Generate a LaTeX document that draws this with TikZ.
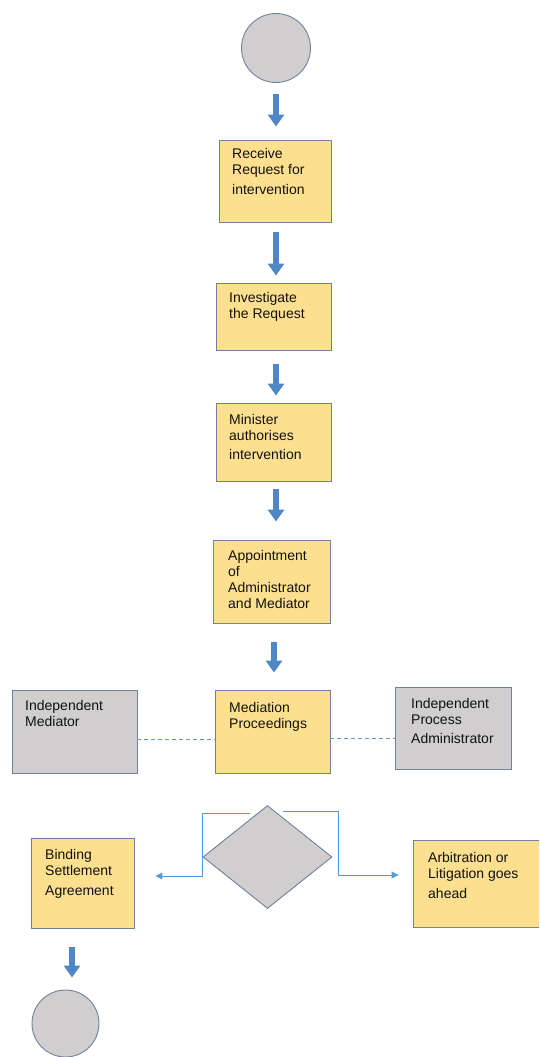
\documentclass[tikz,border=0pt]{standalone}
\usepackage{fontspec}
\setmainfont{Liberation Sans}
\usetikzlibrary{arrows.meta,shapes.geometric}
\definecolor{boxY}{HTML}{FDE08F}
\definecolor{boxG}{HTML}{D0CECF}
\definecolor{edgec}{HTML}{6F819B}
\definecolor{blk}{HTML}{4F86C6}
\definecolor{connc}{HTML}{5B9BD5}
\definecolor{txtc}{HTML}{111111}
\begin{document}
\begin{tikzpicture}[x=1pt,y=-1pt,
  ybox/.style={draw=edgec, fill=boxY, line width=0.9pt, inner sep=0, rectangle},
  gbox/.style={draw=edgec, fill=boxG, line width=0.9pt, inner sep=0, rectangle},
  term/.style={draw=edgec, fill=boxG, line width=0.9pt, inner sep=0, circle},
  txt/.style={anchor=north west, inner sep=0, align=left, font=\fontsize{14}{16}\selectfont, text=txtc},
  blockarrow/.style={draw=blk, line width=6pt, -{Triangle[width=16pt,length=12pt]}},
  dashconn/.style={draw=connc, line width=0.9pt, dash pattern=on 4pt off 3pt},
  flowconn/.style={draw=connc, line width=1pt, -{Triangle[width=7pt,length=7pt]}}
]
\useasboundingbox (0,0) rectangle (539,1057);
\clip (0,0) rectangle (539,1057);

% nodes
\node[term, minimum size=69pt] (c1) at (276,48) {};
\node[ybox, minimum width=112pt, minimum height=82pt] (b1) at (275,181) {};
\node[ybox, minimum width=115pt, minimum height=67pt] (b2) at (273.5,316.5) {};
\node[ybox, minimum width=115pt, minimum height=78pt] (b3) at (273.5,442) {};
\node[ybox, minimum width=117pt, minimum height=83pt] (b4) at (271.5,581.5) {};
\node[ybox, minimum width=115pt, minimum height=83pt] (med) at (272.5,731.5) {};
\node[gbox, minimum width=125pt, minimum height=83pt] (im) at (74.5,731.5) {};
\node[gbox, minimum width=116pt, minimum height=82pt] (ipa) at (453,728) {};
\node[draw=edgec, fill=boxG, line width=0.9pt, inner sep=0, diamond, minimum width=129pt, minimum height=103pt] (dia) at (267.5,857) {};
\node[ybox, minimum width=103pt, minimum height=90pt] (bind) at (82.5,883) {};
\node[ybox, minimum width=132pt, minimum height=87pt] (arb) at (479,883.5) {};
\node[term, minimum size=67pt] (c2) at (65.5,1023.5) {};

% texts
\node[txt] (t1) at (232,148) {Receive\\Request for\\[4pt]intervention};
\node[txt] (t2) at (229,292) {Investigate\\the Request};
\node[txt] (t3) at (229,414) {Minister\\authorises\\[3pt]intervention};
\node[txt] (t4) at (228,550) {Appointment\\of\\Administrator\\and Mediator};
\node[txt] (t5) at (229,702) {Mediation\\Proceedings};
\node[txt] (t6) at (25,700) {Independent\\Mediator};
\node[txt] (t7) at (411,698) {Independent\\Process\\[3pt]Administrator};
\node[txt] (t8) at (45,849) {Binding\\Settlement\\[4pt]Agreement};
\node[txt] (t9) at (428,852) {Arbitration or\\Litigation goes\\[4pt]ahead};

% block arrows
\draw[blockarrow, shorten <=11pt, shorten >=13pt] (c1.south) -- (c1.south |- b1.north);
\draw[blockarrow, shorten <=10pt, shorten >=7pt] ([xshift=1pt]b1.south) -- ([xshift=1pt]b1.south |- b2.north);
\draw[blockarrow, shorten <=14pt, shorten >=7pt] ([xshift=2.5pt]b2.south) -- ([xshift=2.5pt]b2.south |- b3.north);
\draw[blockarrow, shorten <=8pt, shorten >=18pt] ([xshift=2.5pt]b3.south) -- ([xshift=2.5pt]b3.south |- b4.north);
\draw[blockarrow, shorten <=19pt, shorten >=17pt] ([xshift=2.5pt]b4.south) -- ([xshift=2.5pt]b4.south |- med.north);
\draw[blockarrow, shorten <=19pt, shorten >=12pt] ([xshift=-10.5pt]bind.south) -- ([xshift=-10.5pt]bind.south |- c2.north);

% dashed links
\draw[dashconn] ([yshift=-7.5pt]im.east) -- ([yshift=-7.5pt]im.east -| med.west);
\draw[dashconn] ([yshift=-6.5pt]med.east) -- ([yshift=-6.5pt]med.east -| ipa.west);

% decision connectors
\draw[flowconn, shorten >=21pt] ([xshift=-17.5pt,yshift=-8.5pt]dia.north) -| ([yshift=-19pt]dia.west) -- ([yshift=-19pt]dia.west -| bind.east);
\draw[flowconn, shorten >=20pt] ([xshift=15.5pt,yshift=-6.5pt]dia.north) -| ([xshift=6pt,yshift=-18pt]dia.east) -- ([xshift=6pt,yshift=-18pt]dia.east -| arb.west);
\end{tikzpicture}
\end{document}
